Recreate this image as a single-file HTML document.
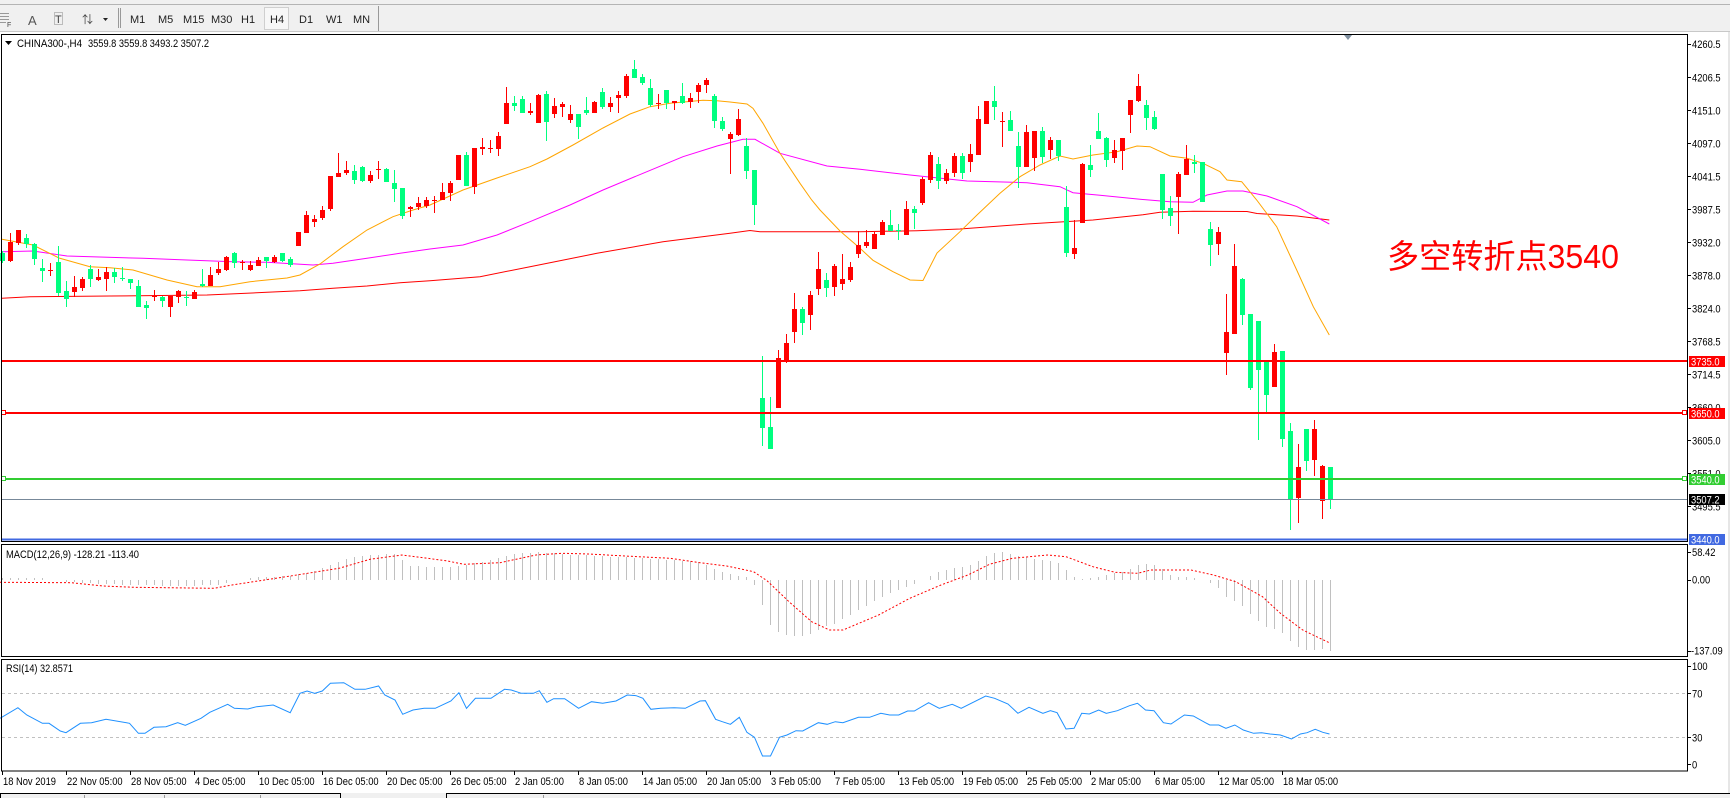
<!DOCTYPE html>
<html><head><meta charset="utf-8">
<style>
html,body{margin:0;padding:0;background:#f0f0f0;}
body{width:1730px;height:798px;overflow:hidden;}
svg{display:block;font-family:"Liberation Sans","Noto Sans CJK SC",sans-serif;}
.t{font-size:11px;fill:#000;}
.tb{font-size:11px;fill:#222;}
</style></head>
<body>
<svg id="s" width="1730" height="798" viewBox="0 0 1730 798" xmlns="http://www.w3.org/2000/svg">
<!-- toolbar -->
<rect x="0" y="0" width="1730" height="33" fill="#f0f0f0"/>
<line x1="0" y1="4.5" x2="1730" y2="4.5" stroke="#b4b4b4"/>
<line x1="0" y1="31.5" x2="1730" y2="31.5" stroke="#c8c8c8"/>
<g fill="#999" shape-rendering="crispEdges">
<rect x="0" y="13" width="9" height="1"/><rect x="0" y="16" width="9" height="1"/><rect x="0" y="19" width="9" height="1"/><rect x="0" y="22" width="6" height="1"/>
<rect x="118" y="8" width="1" height="20"/><rect x="120" y="8" width="1" height="20"/>
<rect x="378" y="6" width="1" height="25"/>
</g>
<text x="7" y="27" style="font-size:7px" fill="#444">F</text>
<text x="28" y="25" style="font-size:13px" fill="#555">A</text>
<rect x="54.5" y="12.5" width="8" height="12" fill="none" stroke="#888" stroke-dasharray="1,1"/>
<text x="55" y="23" style="font-size:11px" fill="#444">T</text>
<text x="82" y="23" style="font-size:11px" fill="#444">⇅</text>
<polygon points="103,18 108,18 105.5,21" fill="#222"/>
<rect x="264.5" y="7.5" width="24" height="22" fill="#f7f7f7" stroke="#cfcfcf"/>
<text class="tb" x="130" y="23">M1</text>
<text class="tb" x="158" y="23">M5</text>
<text class="tb" x="183" y="23">M15</text>
<text class="tb" x="211" y="23">M30</text>
<text class="tb" x="241" y="23">H1</text>
<text class="tb" x="270" y="23">H4</text>
<text class="tb" x="299" y="23">D1</text>
<text class="tb" x="326" y="23">W1</text>
<text class="tb" x="353" y="23">MN</text>
<!-- chart window -->
<rect x="0" y="32" width="1728" height="761" fill="#ffffff"/>
<rect x="1728" y="32" width="2" height="766" fill="#e6e6e6"/>
<!-- bottom tabs -->
<rect x="0" y="793" width="1730" height="5" fill="#f0f0f0"/>
<g stroke="#000" fill="none" shape-rendering="crispEdges">
<path d="M0.5,798 V793.5 H340.5 V798"/>
<path d="M446.5,798 V793.5 H1730"/>
</g>
<g stroke="#999" shape-rendering="crispEdges"><line x1="84.5" y1="795" x2="84.5" y2="798"/><line x1="164.5" y1="795" x2="164.5" y2="798"/><line x1="260.5" y1="795" x2="260.5" y2="798"/><line x1="543.5" y1="795" x2="543.5" y2="798"/></g>

<!-- RSI levels -->
<g stroke="#c0c0c0" stroke-dasharray="3,3" shape-rendering="crispEdges">
<line x1="2" y1="693.5" x2="1687" y2="693.5"/>
<line x1="2" y1="737.5" x2="1687" y2="737.5"/>
</g>
<g id="macd" shape-rendering="crispEdges"></g>
<g id="mas" fill="none" stroke-width="1"></g>
<g id="candles" shape-rendering="crispEdges"></g>

<!-- horizontal levels -->
<g shape-rendering="crispEdges">
<rect x="2" y="360" width="1685" height="2" fill="#ff0000"/>
<rect x="2" y="412" width="1685" height="2" fill="#ff0000"/>
<rect x="2" y="478" width="1685" height="2" fill="#32cd32"/>
<rect x="2" y="499" width="1685" height="1" fill="#778899"/>
<rect x="2" y="538.5" width="1685" height="2" fill="#4169e1"/>
<rect x="1.5" y="410.5" width="4" height="4" fill="#fff" stroke="#ff0000"/>
<rect x="1682.5" y="410.5" width="4" height="4" fill="#fff" stroke="#ff0000"/>
<rect x="1.5" y="476.5" width="4" height="4" fill="#fff" stroke="#32cd32"/>
<rect x="1682.5" y="476.5" width="4" height="4" fill="#fff" stroke="#32cd32"/>
</g>

<!-- frames -->
<g fill="none" stroke="#000" shape-rendering="crispEdges">
<rect x="1.5" y="34.5" width="1686" height="507"/>
<rect x="1.5" y="544.5" width="1686" height="112"/>
<rect x="1.5" y="659.5" width="1686" height="111.5"/>
</g>
<polygon points="1344,35 1352,35 1348,40" fill="#8090a0"/>

<!-- header labels -->
<polygon points="5,41 12,41 8.5,45" fill="#000"/>
<text class="t" x="17" y="47" textLength="65" lengthAdjust="spacingAndGlyphs">CHINA300-,H4</text>
<text class="t" x="88" y="47" textLength="121" lengthAdjust="spacingAndGlyphs">3559.8 3559.8 3493.2 3507.2</text>
<text class="t" x="6" y="558" textLength="133" lengthAdjust="spacingAndGlyphs">MACD(12,26,9) -128.21 -113.40</text>
<text class="t" x="6" y="672" textLength="67" lengthAdjust="spacingAndGlyphs">RSI(14) 32.8571</text>

<text x="1387" y="268" textLength="232" lengthAdjust="spacingAndGlyphs" style="font-size:33px;font-family:'Liberation Sans','Noto Sans CJK SC',sans-serif" fill="#ff0000">多空转折点3540</text>

<g id="axis"></g>
<g id="boxes" shape-rendering="crispEdges">
<rect x="1689" y="356" width="36" height="11" fill="#ff0000"/>
<rect x="1689" y="408" width="36" height="11" fill="#ff0000"/>
<rect x="1689" y="474" width="36" height="11" fill="#32cd32"/>
<rect x="1689" y="494" width="36" height="11" fill="#000000"/>
<rect x="1689" y="534" width="36" height="11" fill="#4169e1"/>
</g>
<g id="boxt"></g>
</svg>
<script>
(function(){
var NS='http://www.w3.org/2000/svg';
function add(p,tag,a,txt){var e=document.createElementNS(NS,tag);for(var k in a)e.setAttribute(k,a[k]);if(txt!==undefined)e.textContent=txt;p.appendChild(e);return e;}
var A="g,632,640,663,668|r,578,606,663,665|r,570,570,608,615|g,582,594,612,625|g,608,612,657,675|g,657,684,692,725|r,668,689,692,707|g,618,665,760,768|g,722,752,778,800|r,708,741,756,772|r,712,716,743,752|g,675,687,718,740|r,686,710,720,724|r,680,695,718,752|g,683,696,710,728|g,682,713,718,722|g,716,716,728,748|g,720,738,800,802|g,782,795,803,836|r,750,768,772,782|g,768,770,782,800|r,768,768,800,830|r,750,753,772,790|g,752,770,773,798|r,750,756,776,778|g,688,732,738,742|r,682,705,737,738|r,665,686,698,705|r,648,652,690,692|g,636,638,670,684|r,660,667,670,690|r,662,676,690,692|r,652,660,677,678|g,652,652,664,684|r,645,651,666,670|g,640,640,662,665|g,652,657,675,680|r,576,576,618,618|r,512,525,578,578|r,525,537,545,560|r,498,510,535,540|r,408,408,506,512|r,340,400,410,412|r,364,390,398,404|g,376,392,420,432|g,378,382,423,425|r,393,405,422,428|r,364,387,390,418|g,383,387,425,425|g,390,430,446,486|g,443,443,527,536|r,497,501,506,530|r,472,489,500,510|r,470,480,497,505";
var B="r,468,480,483,520|r,430,456,480,480|r,422,429,458,482|r,345,345,420,420|g,337,345,437,438|r,323,324,440,463|r,295,321,326,346|r,300,324,328,340|r,276,288,326,347|r,141,189,251,251|g,168,189,197,212|g,168,177,218,220|r,190,212,218,224|r,162,164,248,250|g,153,162,245,302|r,175,198,221,233|r,186,192,200,230|r,195,222,240,248|g,222,222,260,298|g,171,210,218,224|r,183,186,218,218|g,143,155,200,208|r,170,188,200,215|r,153,164,173,218|r,102,108,167,175|g,60,87,113,113|g,102,111,128,135|g,117,144,194,200|r,162,188,192,207|g,150,150,190,207|r,182,183,190,210|g,129,168,190,193|r,160,174,185,203|r,130,134,155,188|r,114,120,134,160|g,162,168,242,263|g,232,243,266,273|r,276,282,298,402|r,207,237,285,288|g,295,318,392,418|g,390,390,496,556";
var C="g,468,595,683,737|g,591,682,748,748|r,450,474,623,623|r,402,430,485,488|r,278,327,395,430|g,320,327,368,405|r,272,285,344,389|r,155,207,266,284|g,218,240,263,290|r,193,198,260,287|r,162,237,251,269|r,185,201,239,245|r,93,135,161,173";
var D="r,570,606,617,624|r,575,582,627,627|r,540,546,584,584|g,510,555,573,573|g,552,570,573,600|r,483,507,584,584|g,498,507,518,566|r,410,417,490,494|r,336,345,420,428|g,351,372,422,446|r,387,400,422,431|r,338,348,398,412|g,340,348,398,416|r,312,342,365,396|r,198,237,344,344|r,183,183,251,251|g,138,183,200,240|r,215,242,245,320|g,213,240,272,272|g,276,318,380,443|r,255,276,380,380|r,273,273,353,392|g,262,273,350,370|r,292,300,330,357|g,300,300,348,362|g,438,501,638,650|r,540,625,641,656|r,369,372,550,550|g,315,375,389,410|g,219,273,297,297|g,291,294,359,380|r,300,330,353,368|r,294,294,332,389|r,180,180,224,278|r,102,138,182,185|g,180,195,233,269|g,212,231,266,269|g,402,402,510,537|g,468,503,527,557|r,395,402,470,581|r,315,356,404,404|g,345,366,371,398|g,366,366,485,485|g,546,567,614,677|r,561,576,611,644";
var E="r,342,456,518,584|r,192,258,461,461|g,294,296,404,434|g,402,402,624,629|g,423,423,569,779|g,545,545,644,695|r,492,516,620,620|g,513,513,776,800|g,729,753,958,1049|r,792,860,953,1028|g,747,747,842,872|r,719,747,839,887|r,855,857,962,1016|g,861,861,958,986";
var secs=[[0,40,A],[54,40,B],[95,200,C],[108,40,D],[153,180,E]];
var cg=document.getElementById('candles');
secs.forEach(function(s){
  var items=s[2].split('|');
  items.forEach(function(it,j){
    var p=it.split(','),i=s[0]+j,col=p[0]=='r'?'#ff0000':'#00ff7f';
    var v=p.slice(1).map(function(z){return s[1]+(+z)/3;});
    var wt=Math.min(v[0],v[1]),bt=Math.min(v[1],v[2]),bb=Math.max(v[1],v[2]),wb=Math.max(v[3],v[2]);
    var x=8*i;
    add(cg,'rect',{x:x+2,y:Math.round(wt),width:1,height:Math.max(1,Math.round(wb)-Math.round(wt)),fill:col});
    add(cg,'rect',{x:x,y:Math.round(bt),width:5,height:Math.max(1,Math.round(bb)-Math.round(bt)),fill:col});
  });
});
function interp(pts,x){
  if(x<=pts[0][0])return pts[0][1];
  for(var k=1;k<pts.length;k++){if(x<=pts[k][0]){var a=pts[k-1],b=pts[k];return a[1]+(b[1]-a[1])*(x-a[0])/(b[0]-a[0]);}}
  return pts[pts.length-1][1];
}
function P(arr){var o=[];for(var k=0;k<arr.length;k+=2)o.push([arr[k],arr[k+1]]);return o;}
var hist=P([2,578,40,578,60,580,66,582,100,584,140,585,180,586,220,585,232,580,260,577,290,576,310,572,330,565,350,558,370,555,395,554,402,560,410,566,440,567,460,566,480,562,500,557,520,553,540,552,560,554,600,556,640,558,700,562,706,565,714,569,722,571.7,730,574.3,738,576,746,577.3,754.5,585,762.5,606.7,770.5,626,778.6,632.7,786.6,635.7,802.7,635.7,810.7,634,818.7,629.3,826.8,626,834.8,623.3,842.9,619,850.9,614,858.9,610,867,605.3,875,600,883,596.7,891,592.7,899,590,907,586.7,915,583.3,923,579.5,931,575,939,571.7,947,570,955,567.3,963,566.7,971,564.7,979,560,987.5,555,995.5,552.7,1003.6,552.3,1011.6,554.3,1019.6,556.7,1027.7,557.3,1035.7,559.3,1043.7,560.7,1051.8,561.7,1059.8,563.3,1067.9,571.7,1076,578.3,1084,579,1092,577.7,1100,576.7,1108,574,1116,573.3,1124,571.7,1132,568.3,1140,564,1148,564,1156,565,1164,570,1172,576.7,1180,576.7,1188,577.3,1196.4,578.3,1204.5,580,1212.5,585,1220.5,590,1228.6,600,1236.6,601.7,1244.6,608.3,1252.7,617.3,1260.7,622.7,1268.8,628.7,1276.8,628.7,1284.8,636,1292.9,644.3,1300.9,649.3,1308.9,650,1317,649.3,1325,649.3,1330.4,650.7]);
var mg=document.getElementById('macd'),Z=579.5;
for(var i=0;i<167;i++){var x=8*i+2,y=interp(hist,x);var t=Math.min(y,Z),b=Math.max(y,Z);if(b-t<0.6)continue;add(mg,'rect',{x:x,y:Math.round(t),width:1,height:Math.max(1,Math.round(b)-Math.round(t)),fill:'#c0c0c0'});}
var sig=[0,582.3,71,582.7,103,586,134,587.3,214,588.3,232,585,286,576.7,339,568.3,370,559.3,402,555,446,560.7,464,564.3,500,562.7,536,555,562.5,553.3,589,554,625,556,670,558.3,700,562.7,726.8,566,753.6,571.7,767,580.7,789,601.7,811.6,621.7,829.5,630,843,630,878.6,615,909.8,598.3,941,585,967.9,575,990.2,564,1012.5,558.3,1048,555,1066,556.7,1092.9,566.7,1115,572.3,1137.5,573.3,1150.9,570,1191,570,1213.4,575,1235.7,581.7,1262.5,596.7,1280.4,613.3,1302.7,630,1330.4,643.3];
var ma=document.getElementById('mas');
function poly(arr,col,extra){var s='';for(var k=0;k<arr.length;k+=2)s+=arr[k]+','+arr[k+1]+' ';var a={points:s,stroke:col,fill:'none','stroke-width':1};if(extra)for(var q in extra)a[q]=extra[q];add(ma,'polyline',a);}
poly(sig,'#ff0000',{'stroke-dasharray':'2,2'});
var rsi=[0,718.3,17.9,707.7,26.8,715,42.4,723.3,49,723.3,60.3,731,66,732.7,80.4,723.3,91.5,722.7,106,719.3,129.5,723.3,138.4,733.3,145,733.3,154,727.3,166,726.7,177.7,722.7,185.3,725.3,201,718.3,209.8,712.3,218.8,708.3,227.7,704.3,234.4,708.3,247.8,709,256.7,706.7,273.2,705,290.2,712.7,300,693.3,307.1,691,314.7,693.3,322.3,691,330.4,683.3,343.8,682.7,354.9,689.3,365.2,689.3,378.6,686,384.8,695,395,700,402.7,714.3,413,710,424.1,708.3,435.3,708.3,450.9,701,458.9,692.7,466.5,708.3,475.4,698.3,491,698.3,504.5,689.3,511.2,690,521.4,693.3,533.5,693.3,539.3,690.7,546.9,702.3,553.6,698.7,564.7,698.7,578.6,708.3,591.5,701.7,602.7,703.3,616,701,627.2,695,636.2,695.7,642.9,698.3,650.9,709.3,660.7,708.3,674.1,707.7,685.3,708.3,700,701,705.4,700.7,715.6,719.3,722.3,721.7,730.4,724.3,739.3,717.3,746.9,732.3,754.5,737.3,762.5,756,770.5,756,779.5,737.3,787,735,796,730.7,802.7,731,818.3,722.7,827.2,724.3,835.3,721.7,842.9,722.7,858.5,717.3,869.6,717.3,880.8,713.3,889.7,715,898.7,715,907.6,711,914.3,711,928.6,702.7,939.3,708.3,952.2,704.3,961.2,708.3,985.7,696,994.6,698.3,1008,704,1017.9,713.3,1029,707.3,1042.9,713.3,1050.4,710.7,1057.1,712.7,1066,729,1074.1,728.3,1081.7,713.3,1089.3,714,1098.7,710,1106.3,713.3,1117.4,710.7,1129.5,705.7,1137.5,703.3,1145.5,710,1154,710.7,1163.4,722.7,1171,724,1184.4,715,1193.3,716,1205.4,722.7,1209.8,725,1218.8,725,1225.9,728.3,1234.8,725,1243.3,730,1253.6,733.3,1261.6,732.7,1270.1,734,1280.4,735,1291.5,739,1300.4,734,1307.1,732.7,1315.2,729.3,1322.8,732.3,1329.5,734];
poly(rsi,'#1e90ff');
var mred=[2,298.3,30,296.7,110,296,207,295,267,292.3,300,290.7,333,288.3,367,286,400,282.7,430,280.7,480,276.7,530,266.7,597,253.3,663,241.7,730,233.3,750,230.5,760,231.7,860,231.7,917,230.7,960,229,1027,224,1093,220,1143,214.7,1160,212.3,1193,211.3,1247,211.5,1257,213.5,1297,216,1329.3,220];
var mmag=[2,251.7,33,251,67,256,143,258.3,187,260,233,261.7,267,262.3,313,265,333,263.3,367,258.3,400,253.3,430,249,463,245,497,235,530,221.7,570,205,603,190,643,173.3,683,156.7,717,146,743,139.3,755,139.3,780,153.3,827,166,860,169.3,910,175,967,181,1027,182.7,1060,186.7,1073,192.7,1100,195.3,1140,199.3,1170,201.7,1193,202.3,1207,195,1227,191,1243,191,1267,196,1297,206.7,1329.3,224];
var morg=[2,239.3,33,245,59,258,90,266.7,110,267.7,133,270,167,280,197,286.7,220,286.7,250,281.7,287,278,300,275,320,264,343,246.7,367,230,393,216.7,413,210,430,205,463,190,497,178,530,166.7,547,159,573,145,603,128,630,114,650,106.7,670,103.3,703,100.3,717,100.7,730,102,747,104,753,108.3,763,123.3,780,153.3,800,183.3,811.7,200,820,210,840,231,860,248.3,873,260.3,893,271.7,910,280,923,280.5,937,253,960,231.7,977,215,1000,193.3,1020,176.7,1040,165,1060,156,1073,159,1093,155,1117,151.7,1137,146,1150,146.7,1170,156,1187,158.3,1203,163.3,1220,171.7,1227,180,1241.7,181.7,1256.7,200,1276.7,226.7,1296.7,270,1313.3,306.7,1329.3,335];
poly(mred,'#ff0000');poly(mmag,'#ff00ff');poly(morg,'#ffa500');
// axis labels
var ax=document.getElementById('axis');
var pl=[['4260.5',44],['4206.5',77.3],['4151.0',110.3],['4097.0',143.3],['4041.5',176.3],['3987.5',209.3],['3932.0',242.3],['3878.0',275.3],['3824.0',308.3],['3768.5',341.3],['3714.5',374.3],['3660.0',407.3],['3605.0',440.3],['3551.0',473.3],['3495.5',506.3],['58.42',552],['0.00',579.7],['-137.09',650.7],['100',666],['70',693.3],['30',737.3],['0',764.3]];
pl.forEach(function(q){var y=Math.round(q[1]);add(ax,'rect',{x:1688,y:y,width:3,height:1,fill:'#000','shape-rendering':'crispEdges'});var tx=q[0].charAt(0)=='-'?1691:1692;var el=add(ax,'text',{x:tx,y:q[1]+4,'class':'t sq'},q[0]);});
var tl=['18 Nov 2019','22 Nov 05:00','28 Nov 05:00','4 Dec 05:00','10 Dec 05:00','16 Dec 05:00','20 Dec 05:00','26 Dec 05:00','2 Jan 05:00','8 Jan 05:00','14 Jan 05:00','20 Jan 05:00','3 Feb 05:00','7 Feb 05:00','13 Feb 05:00','19 Feb 05:00','25 Feb 05:00','2 Mar 05:00','6 Mar 05:00','12 Mar 05:00','18 Mar 05:00'];
tl.forEach(function(s,k){var x=2+64*k;add(ax,'rect',{x:x,y:771,width:1,height:4,fill:'#000','shape-rendering':'crispEdges'});add(ax,'text',{x:x+1,y:785,'class':'t sq'},s);});
var bt=document.getElementById('boxt');
[['3735.0',361.5],['3650.0',413.5],['3540.0',479.5],['3507.2',499.5],['3440.0',539.5]].forEach(function(q){add(bt,'text',{x:1691,y:q[1]+4,'class':'t sq',style:'fill:#fff'},q[0]);});
var sq=document.querySelectorAll('.sq');
for(var k=0;k<sq.length;k++){var w=sq[k].getComputedTextLength();if(w>0){sq[k].setAttribute('textLength',(w*0.85).toFixed(1));sq[k].setAttribute('lengthAdjust','spacingAndGlyphs');}}
})();
</script>
</body></html>
